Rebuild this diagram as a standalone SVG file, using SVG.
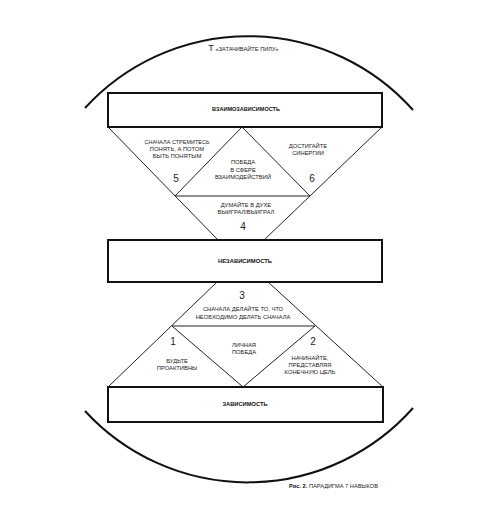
<svg xmlns="http://www.w3.org/2000/svg" width="500" height="532" viewBox="0 0 500 532">
<style>
.box{fill:#fff;stroke:#111;stroke-width:2}
.ln{stroke:#222;stroke-width:1;fill:none}
.arc{stroke:#111;stroke-width:2;fill:none}
text{font-family:"Liberation Sans",Arial,sans-serif;text-anchor:middle;fill:#222}
.t{font-size:5.8px}
.b{font-size:6px;font-weight:bold;fill:#111}
.n{font-size:10px;fill:#222}
</style>
<rect width="500" height="532" fill="#fff"/>
<g id="circle">
<path class="arc" d="M85,108 A221,221 0 0 1 413,110"/>
<path class="arc" d="M85,411 A221,221 0 0 0 413,408"/>
</g>
<g id="connectors">
<path class="ln" d="M108,127 L218,240 M382,127 L264,240 M175,196 L310,196 M175,196 L242,127 L310,196"/>
<path class="ln" d="M217,282 L108,387 M268,282 L383,387 M172,326 L315,326 M172,326 L243,387 L315,326"/>
</g>
<g id="title">
<text x="211" y="51" class="n" style="font-size:9px">Т</text>
<text x="247" y="50.5" class="t" textLength="63" lengthAdjust="spacingAndGlyphs">«ЗАТАЧИВАЙТЕ ПИЛУ»</text>
</g>
<g id="interdependence">
<rect class="box" x="108" y="93" width="274" height="34"/>
<text x="246" y="111" class="b" textLength="68" lengthAdjust="spacingAndGlyphs">ВЗАИМОЗАВИСИМОСТЬ</text>
</g>
<g id="habit5">
<text x="177" y="144" class="t" textLength="65" lengthAdjust="spacingAndGlyphs">СНАЧАЛА СТРЕМИТЕСЬ</text>
<text x="177" y="151" class="t">ПОНЯТЬ, А ПОТОМ</text>
<text x="177" y="158" class="t">БЫТЬ ПОНЯТЫМ</text>
<text x="176" y="182" class="n">5</text>
</g>
<g id="public-victory">
<text x="243" y="164" class="t">ПОБЕДА</text>
<text x="243" y="172" class="t">В СФЕРЕ</text>
<text x="243" y="179" class="t">ВЗАИМОДЕЙСТВИЙ</text>
</g>
<g id="habit6">
<text x="308" y="148" class="t">ДОСТИГАЙТЕ</text>
<text x="308" y="155" class="t">СИНЕРГИИ</text>
<text x="312" y="182" class="n">6</text>
</g>
<g id="habit4">
<text x="246" y="207" class="t">ДУМАЙТЕ В ДУХЕ</text>
<text x="246" y="214" class="t">ВЫИГРАЛ/ВЫИГРАЛ</text>
<text x="243" y="230" class="n">4</text>
</g>
<g id="independence">
<rect class="box" x="108" y="240" width="274" height="42"/>
<text x="245" y="263" class="b" textLength="54" lengthAdjust="spacingAndGlyphs">НЕЗАВИСИМОСТЬ</text>
</g>
<g id="habit3">
<text x="242" y="299" class="n">3</text>
<text x="243" y="311" class="t">СНАЧАЛА ДЕЛАЙТЕ ТО, ЧТО</text>
<text x="243" y="319" class="t">НЕОБХОДИМО ДЕЛАТЬ СНАЧАЛА</text>
</g>
<g id="habit1">
<text x="173" y="345" class="n">1</text>
<text x="177" y="363" class="t">БУДЬТЕ</text>
<text x="177" y="370" class="t">ПРОАКТИВНЫ</text>
</g>
<g id="private-victory">
<text x="244" y="347" class="t">ЛИЧНАЯ</text>
<text x="244" y="354" class="t">ПОБЕДА</text>
</g>
<g id="habit2">
<text x="313" y="345" class="n">2</text>
<text x="310" y="360" class="t">НАЧИНАЙТЕ,</text>
<text x="310" y="367" class="t">ПРЕДСТАВЛЯЯ</text>
<text x="310" y="374" class="t">КОНЕЧНУЮ ЦЕЛЬ</text>
</g>
<g id="dependence">
<rect class="box" x="108" y="387" width="275" height="35"/>
<text x="245" y="406" class="b" textLength="45" lengthAdjust="spacingAndGlyphs">ЗАВИСИМОСТЬ</text>
</g>
<g id="caption">
<text x="289" y="488" style="font-size:6px;text-anchor:start" textLength="89" lengthAdjust="spacingAndGlyphs"><tspan font-weight="bold" fill="#111">Рис. 2.</tspan> ПАРАДИГМА 7 НАВЫКОВ</text>
</g>
</svg>
